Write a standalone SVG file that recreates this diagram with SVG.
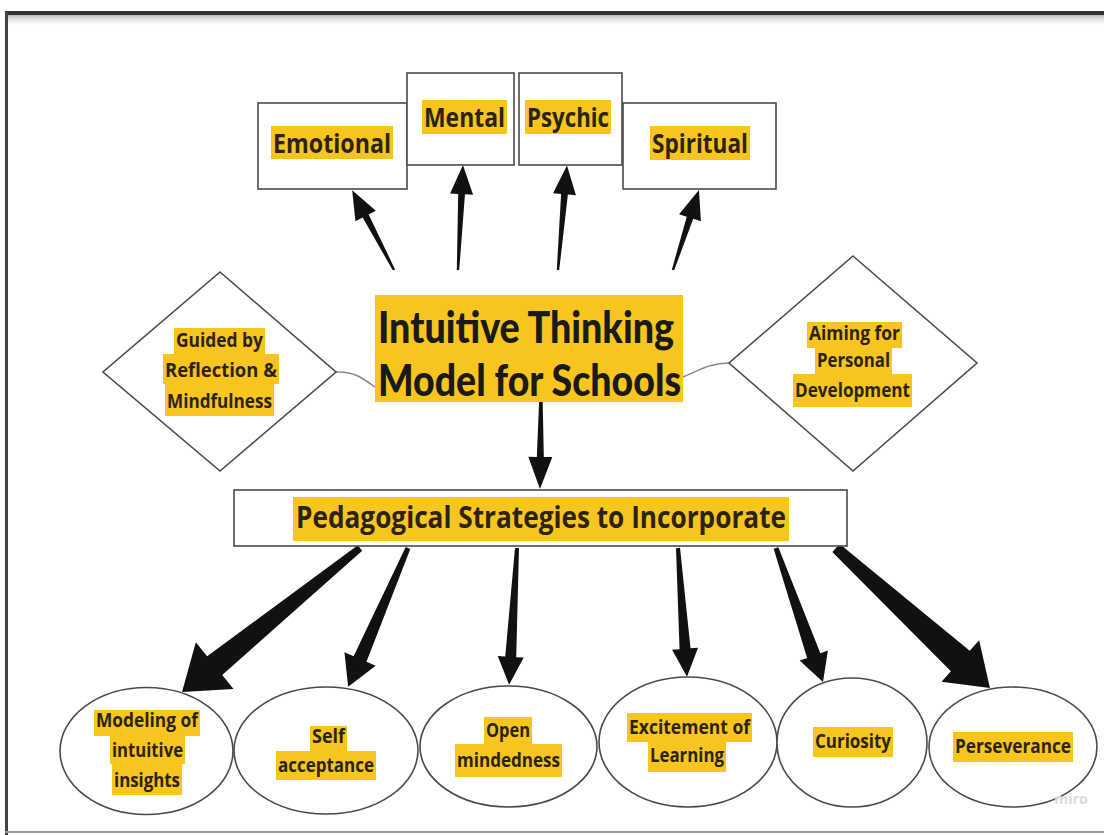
<svg xmlns="http://www.w3.org/2000/svg" width="1104" height="835" viewBox="0 0 1104 835">
<defs>
<linearGradient id="shade" x1="0" y1="0" x2="0" y2="1">
<stop offset="0" stop-color="#b8b8b8"/>
<stop offset="1" stop-color="#ffffff" stop-opacity="0"/>
</linearGradient>
<style>
.box{fill:#fff;stroke:#4a4a4a;stroke-width:1.6}
.hl{fill:#F7C51E}
.lbl{font-family:"Open Sans","Liberation Sans",sans-serif;font-weight:700;fill:#2b2416}
.s19{font-size:19px}
.s27{font-size:27px}
.title{font-family:Lato,"Liberation Sans",sans-serif;font-weight:900;font-size:44px;fill:#1a1a1a}
.arrow{fill:#111}
.conn{fill:none;stroke:#8a8a8a;stroke-width:1.5}
</style>
</defs>
<rect x="0" y="0" width="1104" height="835" fill="#fff"/>
<g id="frame">
<rect x="5" y="15" width="1099" height="12" fill="url(#shade)"/>
<rect x="5" y="11" width="1099" height="4" fill="#333"/>
<rect x="5" y="11" width="3" height="824" fill="#444"/>
<rect x="5" y="831" width="1099" height="2" fill="#9a9a9a"/>
</g>

<g id="connectors">
<path class="conn" d="M336,372 C352,371 362,377 376,388"/>
<path class="conn" d="M683,377 C700,370 710,363 729,363"/>
<polygon class="arrow" transform="translate(394,270) rotate(-117.7)" points="0,-1.2 61,-3.4 61,-11.5 90,0 61,11.5 61,3.4 0,1.2"/>
<polygon class="arrow" transform="translate(458,270) rotate(-87.3)" points="0,-1.2 76,-3.4 76,-11.5 105,0 76,11.5 76,3.4 0,1.2"/>
<polygon class="arrow" transform="translate(558,270) rotate(-85.1)" points="0,-1.2 76,-3.4 76,-11.5 105,0 76,11.5 76,3.4 0,1.2"/>
<polygon class="arrow" transform="translate(673,270) rotate(-72)" points="0,-1.2 55,-3.4 55,-11.5 84,0 55,11.5 55,3.4 0,1.2"/>
<polygon class="arrow" transform="translate(541,392) rotate(90.6)" points="0,-1.5 65,-3.5 65,-12 97,0 65,12 65,3.5 0,1.5"/>
<polygon class="arrow" transform="translate(360,548) rotate(141)" points="0,-3.5 187,-12 187,-30 229,0 187,30 187,12 0,3.5"/>
<polygon class="arrow" transform="translate(408,548) rotate(113.35)" points="0,-2.5 121,-7 121,-17 151,0 121,17 121,7 0,2.5"/>
<polygon class="arrow" transform="translate(517,548) rotate(93.3)" points="0,-2 109,-5.5 109,-13 137,0 109,13 109,5.5 0,2"/>
<polygon class="arrow" transform="translate(678,548) rotate(86)" points="0,-2 101,-5.5 101,-13 129,0 101,13 101,5.5 0,2"/>
<polygon class="arrow" transform="translate(776,548) rotate(70.67)" points="0,-2.5 114,-7 114,-15 142,0 114,15 114,7 0,2.5"/>
<polygon class="arrow" transform="translate(836,548) rotate(42.27)" points="0,-5.5 168,-14 168,-28 208,0 168,28 168,14 0,5.5"/>
</g>

<g id="emotional">
<rect class="box" x="258" y="103" width="149" height="86"/>
<rect class="hl" x="271" y="126" width="122" height="33"/>
<text class="lbl s27" x="273" y="153" textLength="118" lengthAdjust="spacingAndGlyphs">Emotional</text>
</g>
<g id="mental">
<rect class="box" x="407" y="73" width="107" height="92"/>
<rect class="hl" x="422" y="100" width="85" height="34"/>
<text class="lbl s27" x="424" y="127" textLength="81" lengthAdjust="spacingAndGlyphs">Mental</text>
</g>
<g id="psychic">
<rect class="box" x="519" y="73" width="103" height="92"/>
<rect class="hl" x="525" y="100" width="86" height="34"/>
<text class="lbl s27" x="527" y="127" textLength="82" lengthAdjust="spacingAndGlyphs">Psychic</text>
</g>
<g id="spiritual">
<rect class="box" x="623" y="103" width="153" height="86"/>
<rect class="hl" x="650" y="126" width="100" height="34"/>
<text class="lbl s27" x="652" y="153" textLength="96" lengthAdjust="spacingAndGlyphs">Spiritual</text>
</g>

<g id="title">
<rect class="hl" x="375" y="295" width="308" height="107"/>
<text class="title" x="378" y="343" textLength="296" lengthAdjust="spacingAndGlyphs">Intuitive Thinking</text>
<text class="title" x="378" y="396" textLength="303" lengthAdjust="spacingAndGlyphs">Model for Schools</text>
</g>

<g id="reflection">
<polygon class="box" points="220,272 336,372 220,471 103,372"/>
<rect class="hl" x="174" y="328" width="91" height="26"/>
<rect class="hl" x="163" y="354" width="116" height="30"/>
<rect class="hl" x="165" y="384" width="109" height="32"/>
<text class="lbl s19" x="176" y="347" textLength="87" lengthAdjust="spacingAndGlyphs">Guided by</text>
<text class="lbl s19" x="165" y="377" textLength="112" lengthAdjust="spacingAndGlyphs">Reflection &amp;</text>
<text class="lbl s19" x="167" y="408" textLength="105" lengthAdjust="spacingAndGlyphs">Mindfulness</text>
</g>

<g id="development">
<polygon class="box" points="853,256 977,363 853,471 729,363"/>
<rect class="hl" x="807" y="322" width="95" height="26"/>
<rect class="hl" x="815" y="348" width="77" height="26"/>
<rect class="hl" x="793" y="374" width="119" height="33"/>
<text class="lbl s19" x="809" y="340" textLength="91" lengthAdjust="spacingAndGlyphs">Aiming for</text>
<text class="lbl s19" x="817" y="367" textLength="73" lengthAdjust="spacingAndGlyphs">Personal</text>
<text class="lbl s19" x="795" y="397" textLength="115" lengthAdjust="spacingAndGlyphs">Development</text>
</g>

<g id="pedagogical">
<rect class="box" x="234" y="490" width="613" height="56"/>
<rect class="hl" x="293" y="497" width="496" height="44"/>
<text class="lbl" style="font-size:30px" x="296" y="528" textLength="490" lengthAdjust="spacingAndGlyphs">Pedagogical Strategies to Incorporate</text>
</g>

<g id="modeling">
<ellipse class="box" cx="146.5" cy="751" rx="86.5" ry="63.5"/>
<rect class="hl" x="94" y="710" width="106" height="26"/>
<rect class="hl" x="110" y="736" width="75" height="28"/>
<rect class="hl" x="112" y="764" width="70" height="31"/>
<text class="lbl s19" x="96" y="727" textLength="102" lengthAdjust="spacingAndGlyphs">Modeling of</text>
<text class="lbl s19" x="112" y="757" textLength="71" lengthAdjust="spacingAndGlyphs">intuitive</text>
<text class="lbl s19" x="114" y="787" textLength="66" lengthAdjust="spacingAndGlyphs">insights</text>
</g>

<g id="self">
<ellipse class="box" cx="326" cy="750.5" rx="92" ry="63.5"/>
<rect class="hl" x="310" y="726" width="37" height="25"/>
<rect class="hl" x="276" y="751" width="100" height="29"/>
<text class="lbl s19" x="312" y="743" textLength="33" lengthAdjust="spacingAndGlyphs">Self</text>
<text class="lbl s19" x="278" y="772" textLength="96" lengthAdjust="spacingAndGlyphs">acceptance</text>
</g>

<g id="open">
<ellipse class="box" cx="508.5" cy="746.5" rx="88.5" ry="60.5"/>
<rect class="hl" x="484" y="717" width="48" height="27"/>
<rect class="hl" x="455" y="744" width="107" height="33"/>
<text class="lbl s19" x="486" y="737" textLength="44" lengthAdjust="spacingAndGlyphs">Open</text>
<text class="lbl s19" x="457" y="767" textLength="103" lengthAdjust="spacingAndGlyphs">mindedness</text>
</g>

<g id="excitement">
<ellipse class="box" cx="688" cy="742" rx="89" ry="65"/>
<rect class="hl" x="627" y="713" width="125" height="29"/>
<rect class="hl" x="648" y="742" width="78" height="30"/>
<text class="lbl s19" x="629" y="734" textLength="121" lengthAdjust="spacingAndGlyphs">Excitement of</text>
<text class="lbl s19" x="650" y="762" textLength="74" lengthAdjust="spacingAndGlyphs">Learning</text>
</g>

<g id="curiosity">
<ellipse class="box" cx="852" cy="742.5" rx="75" ry="64.5"/>
<rect class="hl" x="813" y="727" width="80" height="30"/>
<text class="lbl s19" x="815" y="748" textLength="76" lengthAdjust="spacingAndGlyphs">Curiosity</text>
</g>

<g id="perseverance">
<ellipse class="box" cx="1013" cy="747" rx="84" ry="60"/>
<rect class="hl" x="953" y="732" width="120" height="30"/>
<text class="lbl s19" x="955" y="753" textLength="116" lengthAdjust="spacingAndGlyphs">Perseverance</text>
</g>

<text x="1054" y="804" style="font-family:'Open Sans',sans-serif;font-weight:700;font-size:15px;fill:#dcdcdc" textLength="34" lengthAdjust="spacingAndGlyphs">miro</text>
</svg>
